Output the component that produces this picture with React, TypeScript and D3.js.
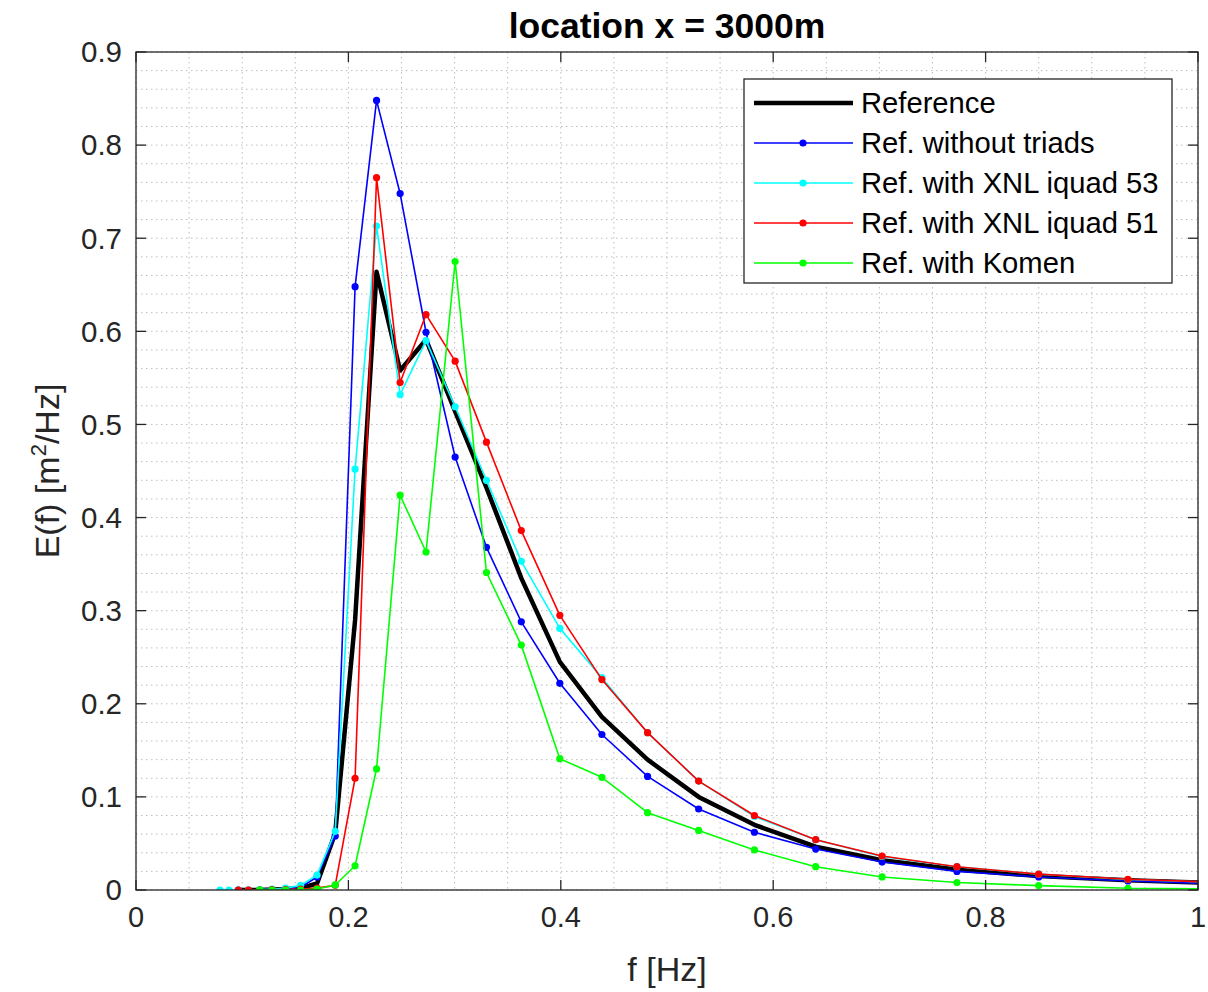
import React from "react";
import * as d3 from "d3";

const freqs = [0.0791, 0.0875, 0.0963, 0.1059, 0.1165, 0.1281, 0.1409, 0.155, 0.1705, 0.1876, 0.2063, 0.2265, 0.2487, 0.2731, 0.3005, 0.33, 0.3628, 0.3991, 0.4387, 0.4817, 0.5298, 0.5823, 0.64, 0.7025, 0.773, 0.85, 0.934, 1.027];

const reference = [null, null, 0, 0, 0, 0.0005, 0.001, 0.002, 0.007, 0.061, 0.29, 0.664, 0.558, 0.591, 0.514, 0.432, 0.335, 0.245, 0.186, 0.14, 0.1, 0.07, 0.0465, 0.032, 0.022, 0.015, 0.0105, 0.007];
const withoutTriads = [null, null, 0, 0, 0, 0.0005, 0.001, 0.003, 0.014, 0.058, 0.648, 0.848, 0.748, 0.599, 0.465, 0.368, 0.288, 0.222, 0.167, 0.122, 0.087, 0.062, 0.044, 0.03, 0.02, 0.014, 0.0097, 0.0065];
const xnl53 = [0, 0, 0, 0, 0.0005, 0.001, 0.002, 0.005, 0.016, 0.063, 0.452, 0.713, 0.532, 0.59, 0.519, 0.44, 0.353, 0.281, 0.228, 0.169, 0.117, 0.079, 0.054, 0.036, 0.025, 0.017, 0.0113, 0.0078];
const xnl51 = [null, null, 0, 0, 0, 0.0003, 0.0005, 0.001, 0.002, 0.005, 0.12, 0.765, 0.545, 0.618, 0.568, 0.481, 0.386, 0.295, 0.226, 0.169, 0.117, 0.08, 0.054, 0.0365, 0.025, 0.017, 0.0115, 0.008];
const komen = [null, null, null, null, 0, 0, 0, 0, 0.001, 0.0054, 0.026, 0.13, 0.424, 0.363, 0.675, 0.341, 0.263, 0.141, 0.121, 0.083, 0.064, 0.043, 0.025, 0.014, 0.008, 0.0047, 0.0018, 0.001];

const seriesNames = ["Reference", "Ref. without triads", "Ref. with XNL iquad 53", "Ref. with XNL iquad 51", "Ref. with Komen"];
const seriesColors = ["#000000", "#0000ff", "#00ffff", "#ff0000", "#00ff00"];
const seriesValues = [reference, withoutTriads, xnl53, xnl51, komen];

const xTicks = [0, 0.2, 0.4, 0.6, 0.8, 1];
const yTicks = [0, 0.1, 0.2, 0.3, 0.4, 0.5, 0.6, 0.7, 0.8, 0.9];
const xMinor = d3.range(0, 1.0001, 0.05);
const yMinor = d3.range(0, 0.9001, 0.02);

const W = 1208, H = 992;
const L = 136, R = 1198, T = 52, B = 890;
const FONT = "'Liberation Sans', Arial, Helvetica, sans-serif";
const AX = "#262626";

export default function App() {
  const x = d3.scaleLinear().domain([0, 1]).range([L, R]);
  const y = d3.scaleLinear().domain([0, 0.9]).range([B, T]);
  const line = d3.line<number | null>()
    .defined((d) => d !== null)
    .x((_, i) => x(freqs[i]))
    .y((d) => y(d as number));

  const legX = 744, legY = 79, legW = 428, legH = 204;

  return (
    <svg width={W} height={H} style={{ position: "absolute", left: 0, top: 0, background: "#fff" }}>
      <rect x={0} y={0} width={W} height={H} fill="#fff" />
      <defs>
        <clipPath id="plotclip">
          <rect x={L} y={T} width={R - L} height={B - T} />
        </clipPath>
      </defs>
      {/* grid */}
      <g>
        {xMinor.map((v, i) => (
          <line key={"xm" + i} x1={x(v)} x2={x(v)} y1={T} y2={B} stroke="#bdbdbd" strokeWidth={1} strokeDasharray="1.5,3.5" />
        ))}
        {yMinor.map((v, i) => (
          <line key={"ym" + i} x1={L} x2={R} y1={y(v)} y2={y(v)} stroke="#bdbdbd" strokeWidth={1} strokeDasharray="1.5,3.5" />
        ))}
      </g>
      {/* series */}
      <g clipPath="url(#plotclip)">
        {seriesValues.map((vals, si) => (
          <g key={"s" + si}>
            <path d={line(vals) || ""} fill="none" stroke={seriesColors[si]} strokeWidth={si === 0 ? 4.5 : 1.6} strokeLinejoin="round" />
            {vals.map((v, i) =>
              v === null ? null : (
                <circle key={i} cx={x(freqs[i])} cy={y(v)} r={si === 0 ? 1.5 : 3.6} fill={seriesColors[si]} />
              )
            )}
          </g>
        ))}
      </g>
      {/* axes box */}
      <rect x={L} y={T} width={R - L} height={B - T} fill="none" stroke={AX} strokeWidth={1.3} />
      {xTicks.map((v, i) => (
        <g key={"xt" + i}>
          <line x1={x(v)} x2={x(v)} y1={B} y2={B - 10} stroke={AX} strokeWidth={1.3} />
          <line x1={x(v)} x2={x(v)} y1={T} y2={T + 10} stroke={AX} strokeWidth={1.3} />
          <text x={x(v)} y={927} textAnchor="middle" fontFamily={FONT} fontSize={29} fill={AX}>{v}</text>
        </g>
      ))}
      {yTicks.map((v, i) => (
        <g key={"yt" + i}>
          <line x1={L} x2={L + 10} y1={y(v)} y2={y(v)} stroke={AX} strokeWidth={1.3} />
          <line x1={R} x2={R - 10} y1={y(v)} y2={y(v)} stroke={AX} strokeWidth={1.3} />
          <text x={122} y={y(v)} dy="0.35em" textAnchor="end" fontFamily={FONT} fontSize={29.5} fill={AX}>{v}</text>
        </g>
      ))}
      {/* labels */}
      <text x={(L + R) / 2} y={981} textAnchor="middle" fontFamily={FONT} fontSize={34} fill={AX}>f [Hz]</text>
      <text transform={`translate(59,${(T + B) / 2}) rotate(-90)`} textAnchor="middle" fontFamily={FONT} fontSize={34} fill={AX}>
        E(f) [m<tspan dy="-13" fontSize={22}>2</tspan><tspan dy="13">/Hz]</tspan>
      </text>
      <text x={(L + R) / 2} y={38} textAnchor="middle" fontFamily={FONT} fontSize={35.5} fontWeight="bold" fill="#000">location x = 3000m</text>
      {/* legend */}
      <g>
        <rect x={legX} y={legY} width={legW} height={legH} fill="#fff" stroke={AX} strokeWidth={1.3} />
        {seriesNames.map((name, i) => {
          const ry = 103 + i * 40;
          return (
            <g key={"lg" + i}>
              <line x1={754} x2={853} y1={ry} y2={ry} stroke={seriesColors[i]} strokeWidth={i === 0 ? 4.5 : 1.6} />
              <circle cx={803} cy={ry} r={i === 0 ? 1.5 : 3.6} fill={seriesColors[i]} />
              <text x={861} y={ry} dy="0.35em" fontFamily={FONT} fontSize={29.2} fill="#000">{name}</text>
            </g>
          );
        })}
      </g>
    </svg>
  );
}
